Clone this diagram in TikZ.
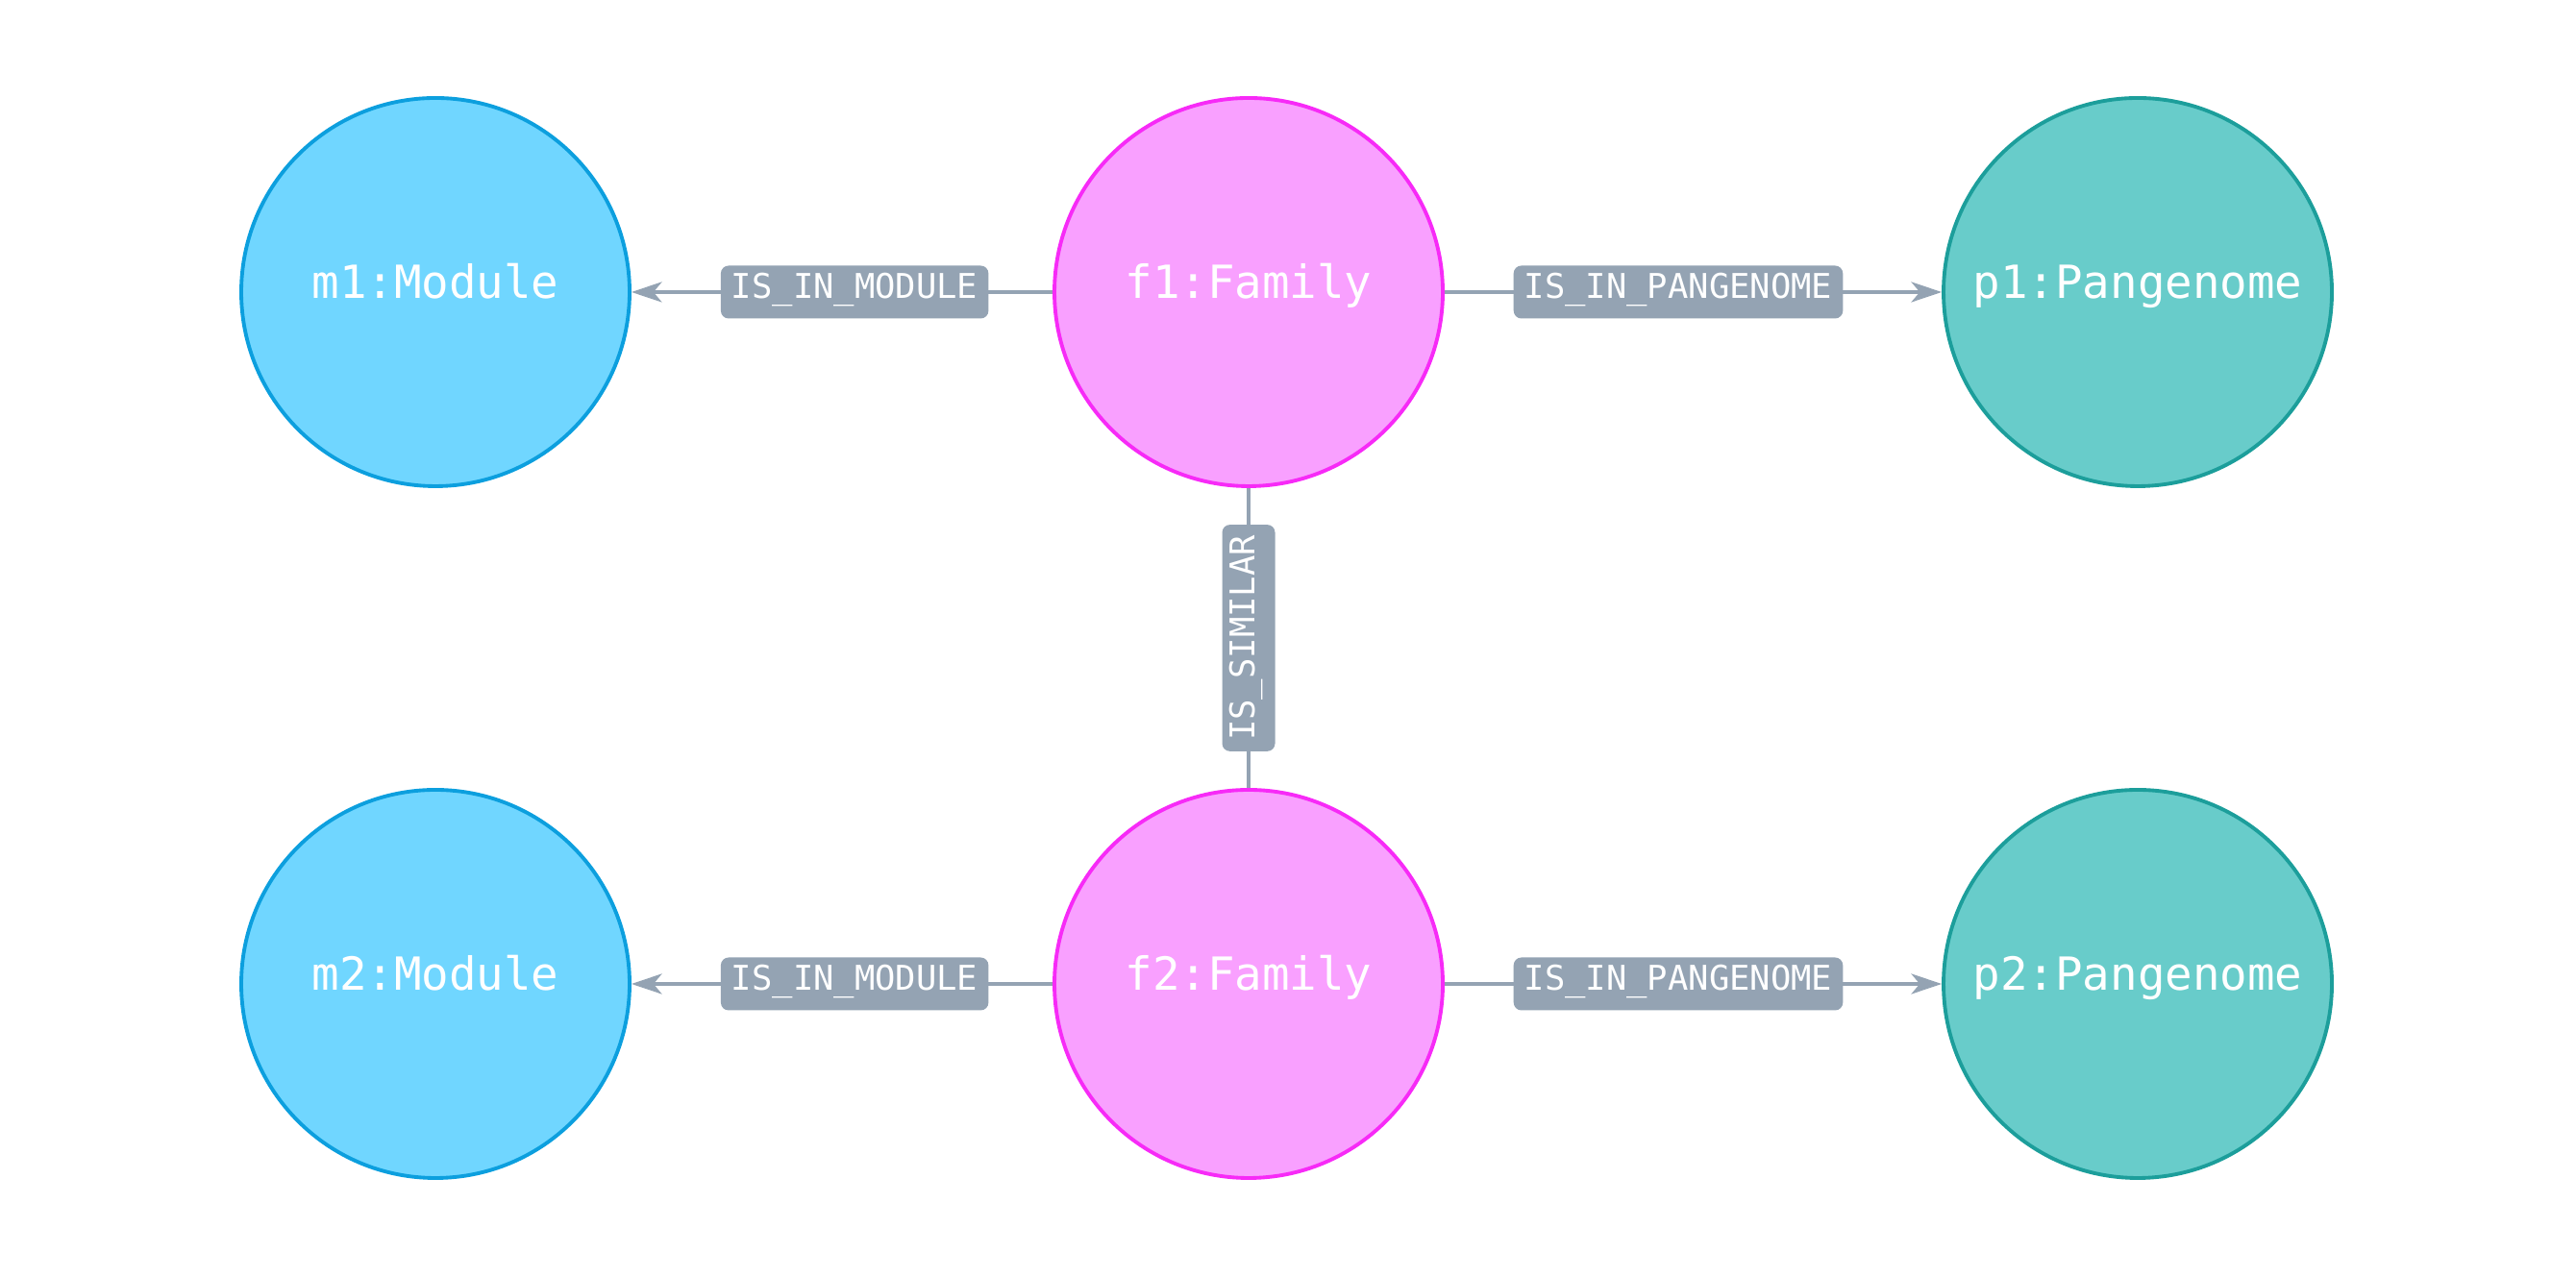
\documentclass[tikz,border=0pt]{standalone}
\usepackage{fontspec}
\usetikzlibrary{arrows.meta}
\newfontfamily\monofont{DejaVu Sans Mono}
\definecolor{mdfill}{HTML}{70D6FF}
\definecolor{mdline}{HTML}{0C9FDE}
\definecolor{fmfill}{HTML}{F9A0FF}
\definecolor{fmline}{HTML}{F72AF7}
\definecolor{pgfill}{HTML}{68CCCA}
\definecolor{pgline}{HTML}{1C9E9B}
\definecolor{relgray}{HTML}{94A3B3}

\begin{document}
\begin{tikzpicture}
	\tikzstyle{ent}=[circle,line width=1.1pt,minimum size=4.04cm,inner sep=0pt,text=white,text height=.75em,text depth=.37em,font=\monofont\fontsize{13.5}{16}\selectfont]
	\tikzstyle{md}=[ent,draw=mdline,fill=mdfill]
	\tikzstyle{fm}=[ent,draw=fmline,fill=fmfill]
	\tikzstyle{pg}=[ent,draw=pgline,fill=pgfill]
	\tikzstyle{rel}=[draw=relgray,line width=1pt,-{Stealth[length=9pt,width=6pt,inset=2.5pt]}]
	\tikzstyle{lbl}=[fill=relgray,rounded corners=2.3pt,text=white,inner xsep=0.11cm,inner ysep=0pt,text height=.75em,text depth=.4em,minimum height=0.55cm,font=\monofont\fontsize{10.1}{12}\selectfont]
	\useasboundingbox (0,0) rectangle (26.8,13.29);
	\foreach \i/\y in {1/10.25,2/3.05} {
		\node[md] (m\i) at (4.53,\y) {m\i:Module};
		\node[fm] (f\i) at (12.99,\y) {f\i:Family};
		\node[pg] (p\i) at (22.24,\y) {p\i:Pangenome};
		\draw[rel] (f\i) -- node[lbl,pos=.47]{IS\_IN\_MODULE} (m\i);
		\draw[rel] (f\i) -- node[lbl,pos=.47]{IS\_IN\_PANGENOME} (p\i);
	}
	\draw[draw=relgray,line width=1pt] (f1) -- node[lbl,rotate=90]{IS\_SIMILAR} (f2);
\end{tikzpicture}
\end{document}
